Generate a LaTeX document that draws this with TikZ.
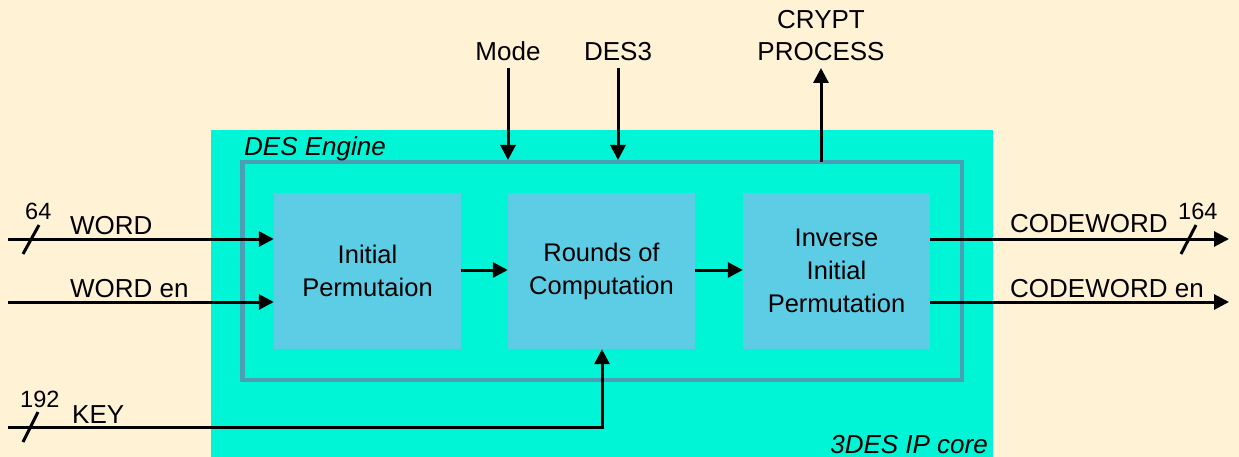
\documentclass[tikz,border=0pt]{standalone}
\usepackage{fontspec}
\setmainfont{Liberation Sans}
\usetikzlibrary{arrows.meta}
\definecolor{bgc}{HTML}{FFF2D5}
\definecolor{corec}{HTML}{00F5D6}
\definecolor{framec}{HTML}{4A9FB5}
\definecolor{blockc}{HTML}{5DCDE6}
\tikzset{
  blockbox/.style={fill=blockc, draw=none, minimum width=187pt, minimum height=156pt, inner sep=0pt, align=center, font=\fontsize{25.5}{33}\selectfont},
  sig/.style={line width=3pt, -{Triangle[length=15pt,width=15pt]}},
  lbl/.style={inner sep=0pt, font=\fontsize{26}{30}\selectfont},
  numlbl/.style={inner sep=0pt, font=\fontsize{23.5}{27}\selectfont},
  slashl/.style={line width=3pt},
}
\begin{document}
\begin{tikzpicture}[x=1pt,y=-1pt]
\useasboundingbox (0,0) rectangle (1239,457);
\fill[bgc] (0,0) rectangle (1239,457);
\fill[corec] (211,130) rectangle (993,457);
\node[blockbox] (ip) at (367.5,271) {Initial\\Permutaion};
\node[blockbox] (rc) at (601.5,271) {Rounds of\\Computation};
\node[blockbox] (iip) at (836.5,271) {Inverse\\Initial\\Permutation};
\draw[framec, line width=4.5pt] (242.5,162) rectangle (962,380);
\coordinate (ftopM) at (508,160);
\coordinate (ftopD) at (618,160);
\coordinate (ftopC) at (821,162);
\node[lbl, anchor=base west, font=\fontsize{26}{30}\selectfont\itshape] (des) at (244,156) {DES Engine};
\node[lbl, anchor=base east, font=\fontsize{26}{30}\selectfont\itshape] (core) at (988,453) {3DES IP core};
% inputs
\coordinate (wIn) at (8,239);
\coordinate (weIn) at (8,302);
\coordinate (kIn) at (8,427);
\coordinate (kCorner) at (602,427);
\draw[sig] (wIn) -- (wIn -| ip.west);
\draw[sig] (weIn) -- (weIn -| ip.west);
\draw[sig] (kIn) -- (kCorner) -- (kCorner |- rc.south);
\node[lbl, anchor=base west] (wl) at (70,234) {WORD};
\node[lbl, anchor=base west] (wel) at (70,297) {WORD en};
\node[lbl, anchor=base west] (kl) at (72,423) {KEY};
\coordinate (s1a) at (23,254); \coordinate (s1b) at (39,225);
\draw[slashl] (s1a) -- (s1b);
\coordinate (s2a) at (23,442); \coordinate (s2b) at (38,412);
\draw[slashl] (s2a) -- (s2b);
\node[numlbl, anchor=base west] (n64) at (25,219) {64};
\node[numlbl, anchor=base west] (n192) at (20,407) {192};
% internal
\draw[sig] (ip.east |- 0,270) -- (rc.west |- 0,270);
\draw[sig] (rc.east |- 0,270) -- (iip.west |- 0,270);
% top
\node[lbl, anchor=base] (mode) at (508,61) {Mode};
\node[lbl, anchor=base] (des3) at (618,61) {DES3};
\coordinate (mTop) at (508,68);
\coordinate (dTop) at (618,68);
\draw[sig] (mTop) -- (ftopM);
\draw[sig] (dTop) -- (ftopD);
\node[lbl, anchor=base] (cp) at (821,29) {CRYPT};
\node[lbl, anchor=base] (cp2) at (821,61) {PROCESS};
\coordinate (cTop) at (821,68);
\draw[sig] (ftopC) -- (cTop);
% outputs
\coordinate (cwOut) at (1229,239);
\coordinate (cweOut) at (1229,302);
\draw[sig] (iip.east |- cwOut) -- (cwOut);
\draw[sig] (iip.east |- cweOut) -- (cweOut);
\node[lbl, anchor=base west] (cwl) at (1010,233) {CODEWORD};
\node[lbl, anchor=base west] (cwel) at (1010,297) {CODEWORD en};
\coordinate (s3a) at (1181,254); \coordinate (s3b) at (1196,225);
\draw[slashl] (s3a) -- (s3b);
\node[numlbl, anchor=base west] (n164) at (1178,219) {164};
\end{tikzpicture}
\end{document}
